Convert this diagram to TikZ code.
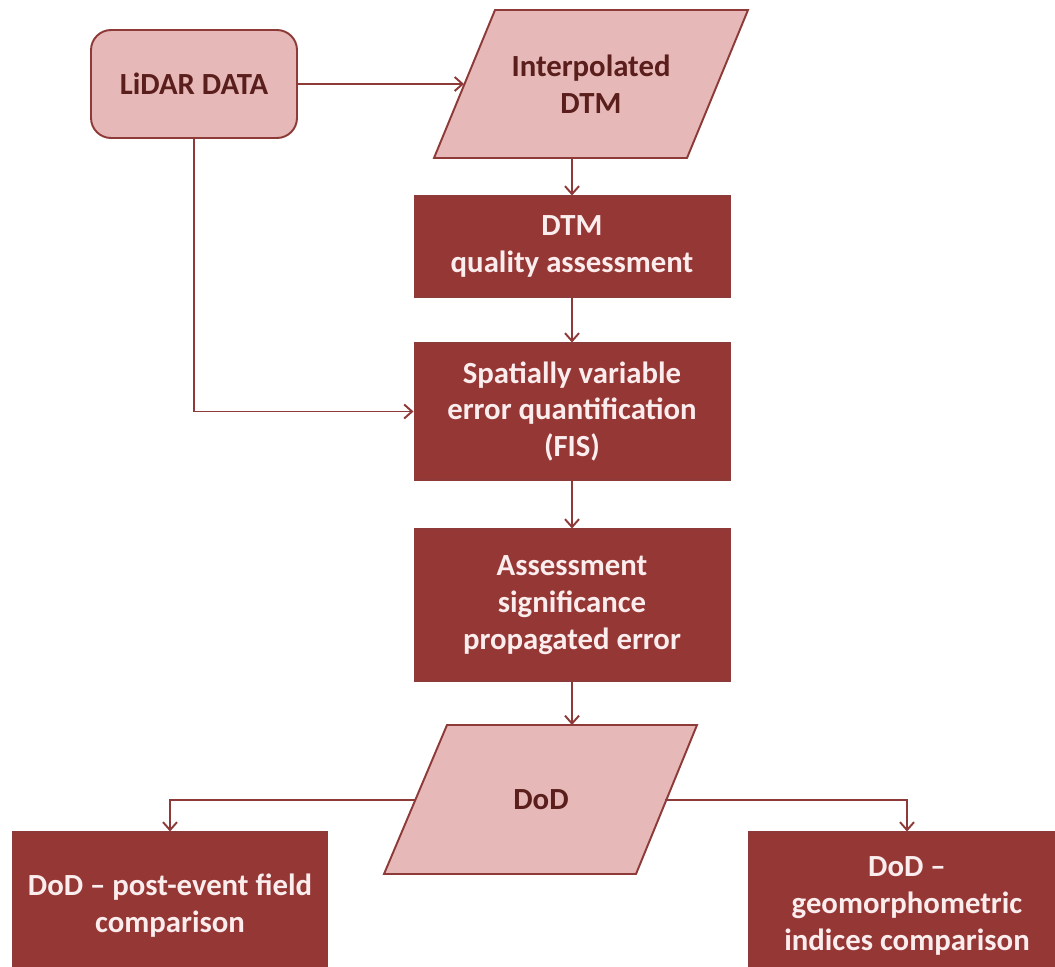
\documentclass[tikz,border=0pt]{standalone}
\usepackage{fontspec}
\setmainfont{Carlito}
\usetikzlibrary{arrows.meta}
\definecolor{darkred}{HTML}{953735}
\definecolor{lightred}{HTML}{E6B9B8}
\definecolor{edgered}{HTML}{8E3A38}
\definecolor{textdark}{HTML}{5A1E1C}
\definecolor{textlight}{HTML}{FBEDED}
\begin{document}
\begin{tikzpicture}[x=0.02cm,y=-0.02cm,
  boxfont/.style={font=\bfseries\fontsize{17.5}{21}\selectfont,align=center},
  darkbox/.style={boxfont,fill=darkred,draw=edgered,line width=0.6pt,text=textlight,inner sep=0pt},
  lightbox/.style={boxfont,fill=lightred,draw=edgered,line width=1.1pt,text=textdark,inner sep=0pt},
  lightshape/.style={fill=lightred,draw=edgered,line width=1.1pt},
  lighttext/.style={boxfont,text=textdark},
  conn/.style={draw=edgered,line width=1.1pt,-{Straight Barb[length=4.5pt,width=8pt]}}]
\useasboundingbox (0,0) rectangle (1055,967);
\clip (0,0) rectangle (1055,967);

% LiDAR box
\node[lightbox,rounded corners=0.4cm,minimum width=4.12cm,minimum height=2.16cm] (lidar) at (194,84) {LiDAR DATA};

% Interpolated DTM parallelogram
\coordinate (ipTL) at (495,10);
\coordinate (ipTR) at (748,10);
\coordinate (ipBR) at (687,158);
\coordinate (ipBL) at (434,158);
\draw[lightshape] (ipTL) -- (ipTR) -- (ipBR) -- (ipBL) -- cycle;
\node[lighttext] (interp) at (591,84) {Interpolated\\DTM};
\coordinate (ipw) at (464,84);
\coordinate (ips) at (572,158);

% process boxes
\node[darkbox,minimum width=6.32cm,minimum height=2.02cm] (dtm) at (572,246.5) {DTM\\quality assessment};
\node[darkbox,minimum width=6.32cm,minimum height=2.74cm] (spatial) at (572,411.5) {Spatially variable\\error quantification\\(FIS)};
\node[darkbox,minimum width=6.32cm,minimum height=3.04cm] (assess) at (572,605) {Assessment\\significance\\propagated error};

% DoD parallelogram
\coordinate (dTL) at (447,725);
\coordinate (dTR) at (697,725);
\coordinate (dBR) at (636,874);
\coordinate (dBL) at (384,874);
\draw[lightshape] (dTL) -- (dTR) -- (dBR) -- (dBL) -- cycle;
\node[lighttext] (dod) at (541,800) {DoD};
\coordinate (dodn) at (572,725);
\coordinate (dodw) at (415,800);
\coordinate (dode) at (665,800);

% bottom boxes
\node[darkbox,minimum width=6.32cm,minimum height=2.96cm] (field) at (170,906) {DoD -- post-event field\\comparison};
\node[darkbox,minimum width=6.36cm,minimum height=2.96cm] (geo) at (907,906) {DoD --\\geomorphometric\\indices comparison};

% connectors
\draw[conn] (lidar.east) -- (ipw);
\draw[conn] (lidar.south) |- (spatial.west);
\draw[conn] (ips) -- (dtm.north);
\draw[conn] (dtm.south) -- (spatial.north);
\draw[conn] (spatial.south) -- (assess.north);
\draw[conn] (assess.south) -- (dodn);
\draw[conn] (dodw) -| (field.north);
\draw[conn] (dode) -| (geo.north);
\end{tikzpicture}
\end{document}
